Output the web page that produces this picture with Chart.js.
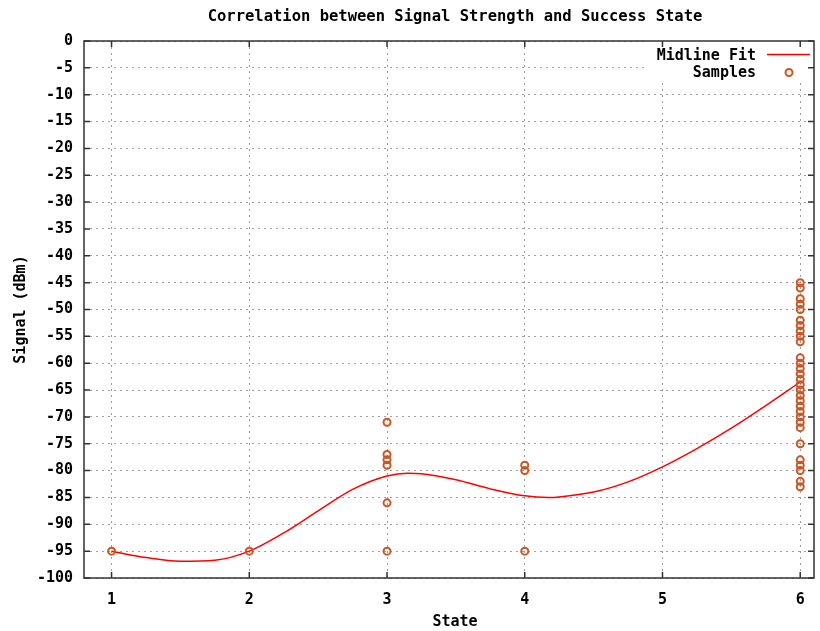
<!DOCTYPE html>
<html>
<head>
<meta charset="utf-8">
<script src="https://cdn.jsdelivr.net/npm/chart.js@4/dist/chart.umd.min.js"></script>
<style>
  html, body { margin: 0; padding: 0; background: #ffffff; }
  #wrap { width: 820px; height: 631px; }
</style>
</head>
<body>
<div id="wrap"><canvas id="c" width="820" height="631"></canvas></div>
<script>
// Text
const chartTitle = 'Correlation between Signal Strength and Success State';
const xTitle = 'State';
const yTitle = 'Signal (dBm)';

// Tick values
const xTicks = [1, 2, 3, 4, 5, 6];
const yTicks = [0, -5, -10, -15, -20, -25, -30, -35, -40, -45, -50,
                -55, -60, -65, -70, -75, -80, -85, -90, -95, -100];

// Smoothed midline through the per-state averages
const fitLabel = 'Midline Fit';
const fitStates = [1, 1.25, 1.5, 1.75, 2, 2.25, 2.5, 2.75, 3, 3.15, 3.25, 3.5, 3.75,
                   4, 4.17, 4.25, 4.5, 4.75, 5, 5.25, 5.5, 5.75, 6];
const fitSignal = [-95, -96.2, -96.9, -96.7, -95, -91.6, -87.5, -83.5, -81, -80.5, -80.6, -81.7, -83.4,
                   -84.7, -85.0, -84.9, -84.0, -82.1, -79.3, -75.9, -72.1, -67.9, -63.5];

// Individual samples
const sampleLabel = 'Samples';
const sampleStates = [1, 2,
  3, 3, 3, 3, 3, 3,
  4, 4, 4,
  6, 6, 6, 6, 6, 6, 6, 6, 6, 6,
  6, 6, 6, 6, 6, 6, 6, 6, 6, 6, 6, 6, 6, 6,
  6, 6, 6, 6, 6, 6];
const sampleSignal = [-95, -95,
  -71, -77, -78, -79, -86, -95,
  -79, -80, -95,
  -45, -46, -48, -49, -50, -52, -53, -54, -55, -56,
  -59, -60, -61, -62, -63, -64, -65, -66, -67, -68, -69, -70, -71, -72,
  -75, -78, -79, -80, -82, -83];

const FONT = 'DejaVu Sans Mono';
const FIT_COLOR = '#ff0000';
const SAMPLE_COLOR = '#cc5522';
const GRID_COLOR = '#a0a0a0';
const FRAME_COLOR = '#333333';
const MARK_R = 3.5;
const MARK_W = 2;

const toPoints = (xs, ys) => xs.map((x, i) => ({ x: x, y: ys[i] }));

// Frame with inward (mirrored) tick marks, an opaque key in the top-right corner,
// and the chart / x-axis titles centred slightly right of the canvas middle
const framePlugin = {
  id: 'frame',
  beforeDatasetsDraw(chart) {
    const { ctx, chartArea: a, scales } = chart;
    const tick = 6;

    // key background
    const keyLeft = a.right - 166, keyBottom = a.top + 39;
    ctx.save();
    ctx.fillStyle = '#ffffff';
    ctx.fillRect(keyLeft, a.top, a.right - keyLeft, keyBottom - a.top);

    ctx.strokeStyle = FRAME_COLOR;
    ctx.lineWidth = 1.5;
    ctx.strokeRect(a.left, a.top, a.right - a.left, a.bottom - a.top);

    ctx.beginPath();
    xTicks.forEach(v => {
      const px = scales.x.getPixelForValue(v);
      ctx.moveTo(px, a.bottom); ctx.lineTo(px, a.bottom - tick);
      ctx.moveTo(px, a.top); ctx.lineTo(px, a.top + tick);
    });
    yTicks.forEach(v => {
      const py = scales.y.getPixelForValue(v);
      ctx.moveTo(a.left, py); ctx.lineTo(a.left + tick, py);
      ctx.moveTo(a.right, py); ctx.lineTo(a.right - tick, py);
    });
    ctx.stroke();

    // key entries: label right-aligned, sample to its right
    ctx.font = 'bold 15px "' + FONT + '"';
    ctx.fillStyle = '#000000';
    ctx.textAlign = 'right';
    ctx.textBaseline = 'middle';
    const textRight = a.right - 58;
    const row1 = a.top + 15, row2 = a.top + 32.5;
    const ds = chart.data.datasets;
    ctx.fillText(ds[0].label, textRight, row1);
    ctx.fillText(ds[1].label, textRight, row2);

    ctx.strokeStyle = FIT_COLOR;
    ctx.lineWidth = 1.5;
    ctx.beginPath();
    ctx.moveTo(a.right - 47, row1 - 1.5);
    ctx.lineTo(a.right - 4, row1 - 1.5);
    ctx.stroke();

    ctx.strokeStyle = SAMPLE_COLOR;
    ctx.lineWidth = MARK_W;
    ctx.beginPath();
    ctx.arc(a.right - 25, row2 - 1, MARK_R, 0, Math.PI * 2);
    ctx.stroke();

    // titles
    const midX = (a.left + a.right) / 2 + 6;
    ctx.textAlign = 'center';
    ctx.font = 'bold 15.5px "' + FONT + '"';
    ctx.fillText(chartTitle, midX, 16.5);
    ctx.font = 'bold 15px "' + FONT + '"';
    ctx.fillText(xTitle, midX, 622.5);
    ctx.restore();
  }
};

const tickFont = { family: FONT, size: 15, weight: 'bold' };

new Chart(document.getElementById('c'), {
  type: 'scatter',
  data: {
    datasets: [
      {
        label: fitLabel,
        data: toPoints(fitStates, fitSignal),
        showLine: true,
        borderColor: FIT_COLOR,
        borderWidth: 1.5,
        pointRadius: 0,
        fill: false,
        cubicInterpolationMode: 'monotone',
        order: 1
      },
      {
        label: sampleLabel,
        data: toPoints(sampleStates, sampleSignal),
        showLine: false,
        pointStyle: 'circle',
        pointRadius: MARK_R,
        pointBorderWidth: MARK_W,
        borderColor: SAMPLE_COLOR,
        backgroundColor: 'rgba(0,0,0,0)',
        order: 0
      }
    ]
  },
  options: {
    responsive: false,
    animation: false,
    devicePixelRatio: 1,
    layout: { padding: { left: 0, right: 6, top: 41, bottom: 0 } },
    plugins: {
      legend: { display: false },
      tooltip: { enabled: false },
      title: { display: false }
    },
    scales: {
      x: {
        type: 'linear',
        min: 0.8,
        max: 6.1,
        afterBuildTicks: s => { s.ticks = xTicks.map(v => ({ value: v })); },
        afterFit: s => { s.height = 53; },
        ticks: { color: '#000000', font: tickFont, padding: 13, maxRotation: 0, autoSkip: false },
        grid: { color: GRID_COLOR, lineWidth: 1, drawTicks: false },
        border: { display: false, dash: [2, 4] },
        title: { display: false }
      },
      y: {
        type: 'linear',
        min: -100,
        max: 0,
        afterBuildTicks: s => { s.ticks = yTicks.map(v => ({ value: v })); },
        afterFit: s => { s.width = 84; },
        ticks: { color: '#000000', font: tickFont, padding: 11, autoSkip: false },
        grid: { color: GRID_COLOR, lineWidth: 1, drawTicks: false },
        border: { display: false, dash: [2, 4] },
        title: {
          display: true, text: yTitle, color: '#000000',
          font: { family: FONT, size: 15, weight: 'bold', lineHeight: 1.2 },
          padding: { top: 12, bottom: 0 }
        }
      }
    }
  },
  plugins: [framePlugin]
});
</script>
</body>
</html>
